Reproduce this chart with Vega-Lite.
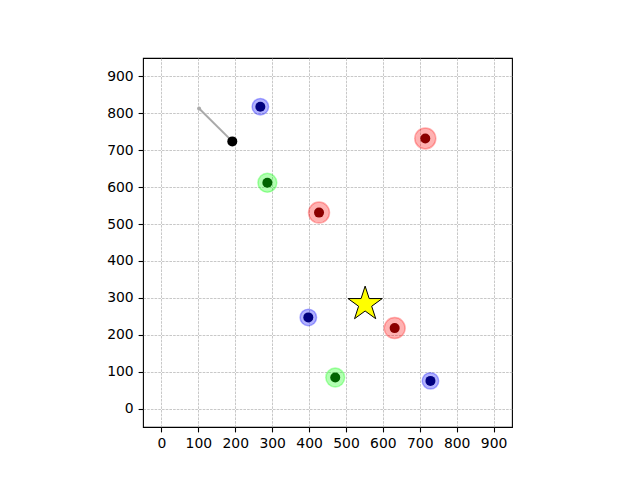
{
  "$schema": "https://vega.github.io/schema/vega-lite/v6.json",
  "autosize": "none",
  "width": 369,
  "height": 369,
  "padding": {"left": 143, "top": 58, "right": 128, "bottom": 53},
  "config": {
    "font": "DejaVu Sans",
    "view": {"stroke": "black", "strokeWidth": 1.1},
    "axis": {
      "domain": false,
      "grid": true,
      "gridColor": "#b0b0b0",
      "gridDash": [2.6, 1.1],
      "gridWidth": 0.7,
      "tickColor": "black",
      "tickSize": 4.9,
      "tickWidth": 1.1,
      "labelFont": "DejaVu Sans",
      "labelFontSize": 13.9,
      "labelColor": "black",
      "labelPadding": 4.9,
      "title": null
    }
  },
  "datasets": {
    "targets": [
      {"group": "blue", "x": 268, "y": 818},
      {"group": "blue", "x": 398, "y": 247},
      {"group": "blue", "x": 729, "y": 75},
      {"group": "green", "x": 287, "y": 612},
      {"group": "green", "x": 471, "y": 84},
      {"group": "red", "x": 715, "y": 732},
      {"group": "red", "x": 427, "y": 531},
      {"group": "red", "x": 632, "y": 218}
    ],
    "path": [
      {"step": 0, "x": 102, "y": 813},
      {"step": 1, "x": 192, "y": 724}
    ],
    "star": [
      {"x": 552, "y": 283}
    ]
  },
  "resolve": {"scale": {"color": "independent", "size": "independent", "stroke": "independent"}},
  "layer": [
    {
      "data": {"name": "targets"},
      "mark": {"type": "point", "filled": true, "fillOpacity": 0.3, "strokeOpacity": 0.3, "strokeWidth": 1.5},
      "encoding": {
        "x": {"field": "x", "type": "quantitative", "scale": {"domain": [-50, 950], "nice": false, "zero": false},
              "axis": {"orient": "bottom", "values": [0, 100, 200, 300, 400, 500, 600, 700, 800, 900]}},
        "y": {"field": "y", "type": "quantitative", "scale": {"domain": [-50, 950], "nice": false, "zero": false},
              "axis": {"orient": "left", "values": [0, 100, 200, 300, 400, 500, 600, 700, 800, 900]}},
        "color": {"field": "group", "type": "nominal", "legend": null,
                  "scale": {"domain": ["blue", "green", "red"], "range": ["#0000ff", "#00ff00", "#ff0000"]}},
        "stroke": {"field": "group", "type": "nominal", "legend": null,
                  "scale": {"domain": ["blue", "green", "red"], "range": ["#0000ff", "#00ff00", "#ff0000"]}},
        "size": {"field": "group", "type": "nominal", "legend": null,
                 "scale": {"domain": ["blue", "green", "red"], "range": [272, 441, 700]}}
      }
    },
    {
      "data": {"name": "targets"},
      "mark": {"type": "circle", "opacity": 1, "size": 100},
      "encoding": {
        "x": {"field": "x", "type": "quantitative"},
        "y": {"field": "y", "type": "quantitative"},
        "fill": {"field": "group", "type": "nominal", "legend": null,
                  "scale": {"domain": ["blue", "green", "red"], "range": ["#000080", "#006400", "#8b0000"]}}
      }
    },
    {
      "data": {"name": "path"},
      "mark": {"type": "line", "color": "#aaaaaa", "strokeWidth": 2},
      "encoding": {
        "x": {"field": "x", "type": "quantitative"},
        "y": {"field": "y", "type": "quantitative"},
        "order": {"field": "step", "type": "quantitative"}
      }
    },
    {
      "data": {"name": "path"},
      "transform": [{"filter": "datum.step == 0"}],
      "mark": {"type": "circle", "color": "#aaaaaa", "opacity": 1, "size": 16},
      "encoding": {
        "x": {"field": "x", "type": "quantitative"},
        "y": {"field": "y", "type": "quantitative"}
      }
    },
    {
      "data": {"name": "path"},
      "transform": [{"filter": "datum.step == 1"}],
      "mark": {"type": "circle", "color": "black", "opacity": 1, "size": 100},
      "encoding": {
        "x": {"field": "x", "type": "quantitative"},
        "y": {"field": "y", "type": "quantitative"}
      }
    },
    {
      "data": {"name": "star"},
      "mark": {"type": "point", "shape": "M0,-1L0.2245,-0.309L0.9511,-0.309L0.3633,0.118L0.5878,0.809L0,0.382L-0.5878,0.809L-0.3633,0.118L-0.9511,-0.309L-0.2245,-0.309Z", "filled": true, "fill": "yellow", "stroke": "black", "strokeWidth": 1, "opacity": 1, "size": 1300},
      "encoding": {
        "x": {"field": "x", "type": "quantitative"},
        "y": {"field": "y", "type": "quantitative"}
      }
    }
  ]
}
